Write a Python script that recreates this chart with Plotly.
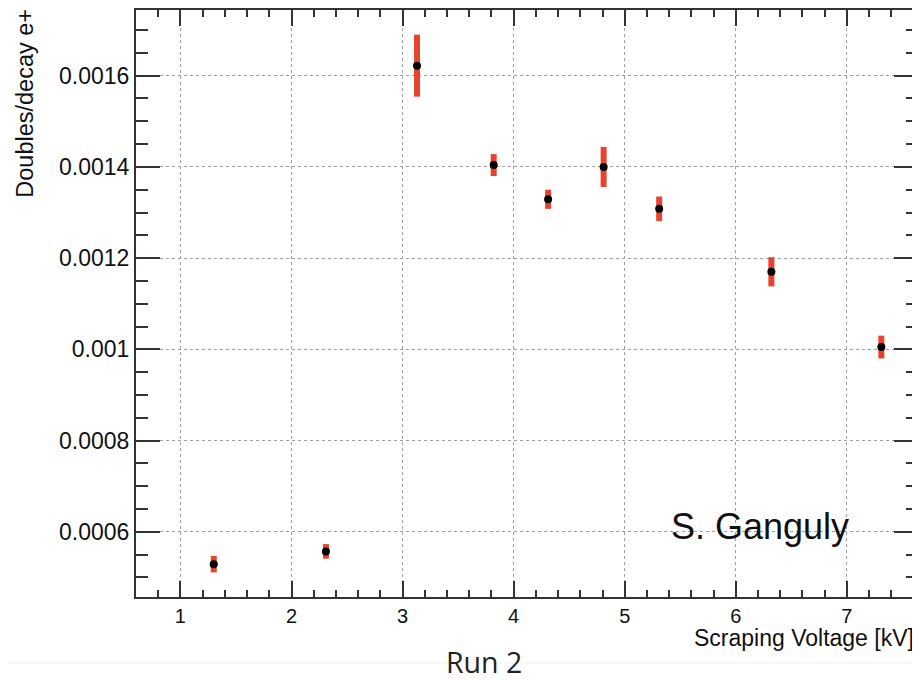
import plotly.graph_objects as go

# Data
voltage_kv = [1.30, 2.31, 3.13, 3.82, 4.31, 4.81, 5.31, 6.32, 7.31]
doubles_per_decay = [0.000529, 0.000557, 0.001622, 0.001404, 0.001329, 0.001400, 0.001308, 0.001170, 0.001005]
doubles_err = [0.000018, 0.000016, 0.000068, 0.000024, 0.000021, 0.000044, 0.000027, 0.000032, 0.000025]

y_tick_vals = [0.0006, 0.0008, 0.001, 0.0012, 0.0014, 0.0016]
y_tick_labels = ["0.0006", "0.0008", "0.001", "0.0012", "0.0014", "0.0016"]
x_tick_vals = [1, 2, 3, 4, 5, 6, 7]
x_tick_labels = ["1", "2", "3", "4", "5", "6", "7"]

FONT = "Liberation Sans, Arial, Helvetica, sans-serif"
AX = "#333333"

fig = go.Figure()
fig.add_trace(go.Scatter(
    x=voltage_kv, y=doubles_per_decay, mode="markers",
    marker=dict(color="black", size=8),
    error_y=dict(type="data", array=doubles_err, visible=True,
                 color="#e8432e", thickness=6, width=0),
    showlegend=False,
))

# The page body has an 8px margin, so the figure is sized to fit the 920x680 window
fig.update_layout(
    width=912, height=672,
    margin=dict(l=128, r=0, t=2, b=83),
    paper_bgcolor="white", plot_bgcolor="white",
    font=dict(family=FONT, color="#111111"),
    xaxis=dict(
        range=[0.6, 7.64], tickmode="array", tickvals=x_tick_vals, ticktext=x_tick_labels,
        showline=True, linewidth=2, linecolor=AX, mirror="ticks",
        ticks="inside", ticklen=16, tickwidth=2, tickcolor=AX,
        showgrid=True, gridcolor="#a0a0a0", gridwidth=1, griddash="dot",
        zeroline=False, tickfont=dict(size=20, family=FONT, color="#111111"),
        minor=dict(dtick=0.2, tick0=0, ticks="inside", ticklen=7, tickwidth=2,
                   tickcolor=AX, showgrid=False),
    ),
    yaxis=dict(
        range=[0.000457, 0.001744], tickmode="array", tickvals=y_tick_vals, ticktext=y_tick_labels,
        showline=True, linewidth=2, linecolor=AX, mirror="ticks",
        ticks="inside", ticklen=24, tickwidth=2, tickcolor=AX,
        showgrid=True, gridcolor="#a0a0a0", gridwidth=1, griddash="dot",
        zeroline=False, tickfont=dict(size=23, family=FONT, color="#111111"),
        minor=dict(dtick=0.00005, tick0=0, ticks="inside", ticklen=12, tickwidth=2,
                   tickcolor=AX, showgrid=False),
    ),
)

# Axis titles and labels
fig.add_annotation(text="Scraping Voltage [kV]", xref="paper", yref="paper",
                   x=0.9972, y=-0.0698, xanchor="right", yanchor="middle",
                   showarrow=False, font=dict(size=23, family=FONT, color="#111111"))
fig.add_annotation(text="Doubles/decay e+", xref="paper", yref="paper",
                   x=-0.1416, y=0.8408, xanchor="center", yanchor="middle", textangle=-90,
                   showarrow=False, font=dict(size=23.5, family=FONT, color="#111111"))
fig.add_annotation(text="S. Ganguly", xref="paper", yref="paper",
                   x=0.7985, y=0.1198, xanchor="center", yanchor="middle",
                   showarrow=False, font=dict(size=36, family=FONT, color="#111111"))
fig.add_annotation(text="Run 2", xref="paper", yref="paper",
                   x=0.4452, y=-0.1107, xanchor="center", yanchor="middle",
                   showarrow=False, font=dict(size=28.5, family="Open Sans, sans-serif", color="#222222"))

fig.add_shape(type="line", xref="paper", yref="paper", x0=-0.17, x1=1.0, y0=-0.1124, y1=-0.1124,
              line=dict(color="#efefef", width=1), layer="below")

fig.write_html("out.html")
